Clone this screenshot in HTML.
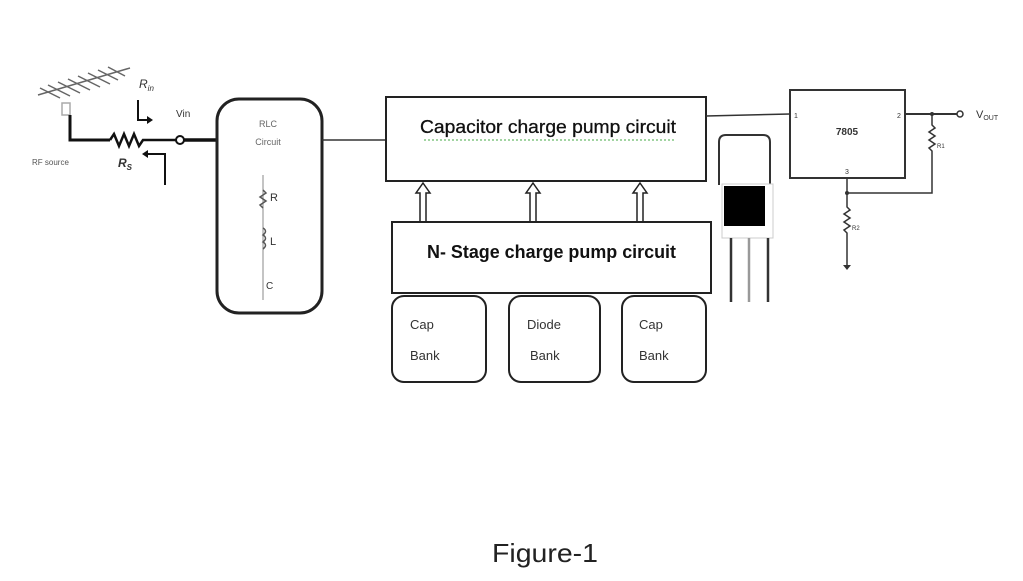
<!DOCTYPE html>
<html><head><style>
body{margin:0;background:#fff;}
svg text{font-family:"Liberation Sans",sans-serif;}
</style></head><body>
<svg width="1023" height="576" viewBox="0 0 1023 576" xmlns="http://www.w3.org/2000/svg">
<rect width="1023" height="576" fill="#fff"/>
<!-- antenna -->
<g stroke="#666" stroke-width="1.5" fill="none">
<line x1="38" y1="95" x2="130" y2="68"/>
<line x1="40" y1="88" x2="60" y2="98"/><line x1="48" y1="85" x2="70" y2="96"/><line x1="58" y1="82" x2="80" y2="93"/>
<line x1="68" y1="79" x2="90" y2="90"/><line x1="78" y1="76" x2="100" y2="87"/><line x1="88" y1="73" x2="110" y2="84"/>
<line x1="98" y1="70" x2="118" y2="80"/><line x1="108" y1="67" x2="125" y2="76"/>
<rect x="62" y="103" width="8" height="12" stroke="#aaa"/>
</g>
<path d="M70 115 V140 H110" stroke="#111" stroke-width="3" fill="none"/>
<path d="M110 140 l4 -6 l5 12 l5 -12 l5 12 l5 -12 l5 12 l4 -6 H176" stroke="#111" stroke-width="2.5" fill="none"/>
<circle cx="180" cy="140" r="4" fill="#fff" stroke="#111" stroke-width="2"/>
<line x1="184" y1="140" x2="216" y2="140" stroke="#111" stroke-width="3.5"/>
<path d="M138 100 V120 H150" stroke="#111" stroke-width="2" fill="none"/><path d="M147 116 l6 4 l-6 4z" fill="#111"/>
<path d="M165 185 V154 H145" stroke="#111" stroke-width="2" fill="none"/><path d="M148 150 l-6 4 l6 4z" fill="#111"/>
<text x="139" y="88" font-size="12" font-style="italic" fill="#333">R<tspan font-size="8" dy="3">in</tspan></text>
<text x="118" y="167" font-size="12" font-style="italic" font-weight="bold" fill="#333">R<tspan font-size="8" dy="3">S</tspan></text>
<text x="176" y="117" font-size="10" fill="#333">Vin</text>
<text x="32" y="165" font-size="8" fill="#555">RF source</text>
<!-- RLC -->
<rect x="217" y="99" width="105" height="214" rx="22" fill="none" stroke="#222" stroke-width="3"/>
<text x="268" y="127" font-size="9" fill="#666" text-anchor="middle">RLC</text>
<text x="268" y="145" font-size="9" fill="#666" text-anchor="middle">Circuit</text>
<line x1="263" y1="175" x2="263" y2="300" stroke="#888" stroke-width="1"/>
<path d="M263 190 l3 3 l-6 4 l6 4 l-6 4 l3 3 M263 228 q5 3 0 7 q5 3 0 7 q5 3 0 7" stroke="#555" stroke-width="1.5" fill="none"/>
<text x="270" y="201" font-size="11" fill="#333">R</text>
<text x="270" y="245" font-size="11" fill="#333">L</text>
<text x="266" y="289" font-size="10" fill="#333">C</text>
<line x1="322" y1="140" x2="386" y2="140" stroke="#333" stroke-width="1.5"/>
<!-- charge pump -->
<rect x="386" y="97" width="320" height="84" fill="none" stroke="#222" stroke-width="2"/>
<text x="420" y="133" font-size="18" textLength="256" lengthAdjust="spacingAndGlyphs" fill="#111" stroke="#111" stroke-width="0.3">Capacitor charge pump circuit</text>
<line x1="424" y1="140" x2="675" y2="140" stroke="#4a4" stroke-width="1" stroke-dasharray="2 2"/>
<g fill="#fff" stroke="#222" stroke-width="1.5">
<path d="M420 222 V193 H416 L423 183 L430 193 H426 V222Z"/>
<path d="M530 222 V193 H526 L533 183 L540 193 H536 V222Z"/>
<path d="M637 222 V193 H633 L640 183 L647 193 H643 V222Z"/>
</g>
<rect x="392" y="222" width="319" height="71" fill="none" stroke="#222" stroke-width="2"/>
<text x="427" y="258" font-size="18" font-weight="bold" textLength="249" lengthAdjust="spacingAndGlyphs" fill="#111">N- Stage charge pump circuit</text>
<g fill="none" stroke="#222" stroke-width="2">
<rect x="392" y="296" width="94" height="86" rx="12"/>
<rect x="509" y="296" width="91" height="86" rx="12"/>
<rect x="622" y="296" width="84" height="86" rx="12"/>
</g>
<g font-size="13" fill="#333">
<text x="410" y="329">Cap</text><text x="410" y="360">Bank</text>
<text x="527" y="329">Diode</text><text x="530" y="360">Bank</text>
<text x="639" y="329">Cap</text><text x="639" y="360">Bank</text>
</g>
<!-- TO-220 -->
<path d="M719 185 V142 q0 -7 7 -7 H763 q7 0 7 7 V185" fill="none" stroke="#333" stroke-width="2"/>
<rect x="722" y="184" width="51" height="54" fill="#fff" stroke="#ccc"/>
<rect x="724" y="186" width="41" height="40" fill="#000"/>
<g stroke="#333" stroke-width="2.5"><line x1="731" y1="238" x2="731" y2="302"/><line x1="749" y1="238" x2="749" y2="302" stroke="#999"/><line x1="768" y1="238" x2="768" y2="302"/></g>
<!-- 7805 -->
<line x1="706" y1="116" x2="790" y2="114" stroke="#333" stroke-width="1.5"/>
<rect x="790" y="90" width="115" height="88" fill="none" stroke="#333" stroke-width="2"/>
<text x="847" y="135" font-size="10" font-weight="bold" text-anchor="middle" fill="#333">7805</text>
<text x="794" y="118" font-size="7" fill="#333">1</text><text x="897" y="118" font-size="7" fill="#333">2</text><text x="845" y="174" font-size="7" fill="#333">3</text>
<line x1="905" y1="114" x2="957" y2="114" stroke="#333" stroke-width="2"/>
<circle cx="960" cy="114" r="3" fill="#fff" stroke="#333" stroke-width="1.5"/>
<circle cx="932" cy="114" r="2" fill="#333"/>
<text x="976" y="118" font-size="11" fill="#333">V<tspan font-size="7" dy="2">OUT</tspan></text>
<path d="M932 114 V125 l3 3 l-6 4 l6 4 l-6 4 l6 4 l-6 4 l3 3 V193 H847" stroke="#333" stroke-width="1.5" fill="none"/>
<circle cx="847" cy="193" r="2" fill="#333"/>
<path d="M847 178 V207 l3 3 l-6 4 l6 4 l-6 4 l6 4 l-6 4 l3 3 V268" stroke="#333" stroke-width="1.5" fill="none"/>
<path d="M843 265 h8 l-4 5z" fill="#333"/>
<text x="937" y="148" font-size="6" fill="#333">R1</text><text x="852" y="230" font-size="6" fill="#333">R2</text>
<text x="492" y="562" font-size="26" textLength="106" lengthAdjust="spacingAndGlyphs" fill="#222">Figure-1</text>
</svg>
</body></html>
